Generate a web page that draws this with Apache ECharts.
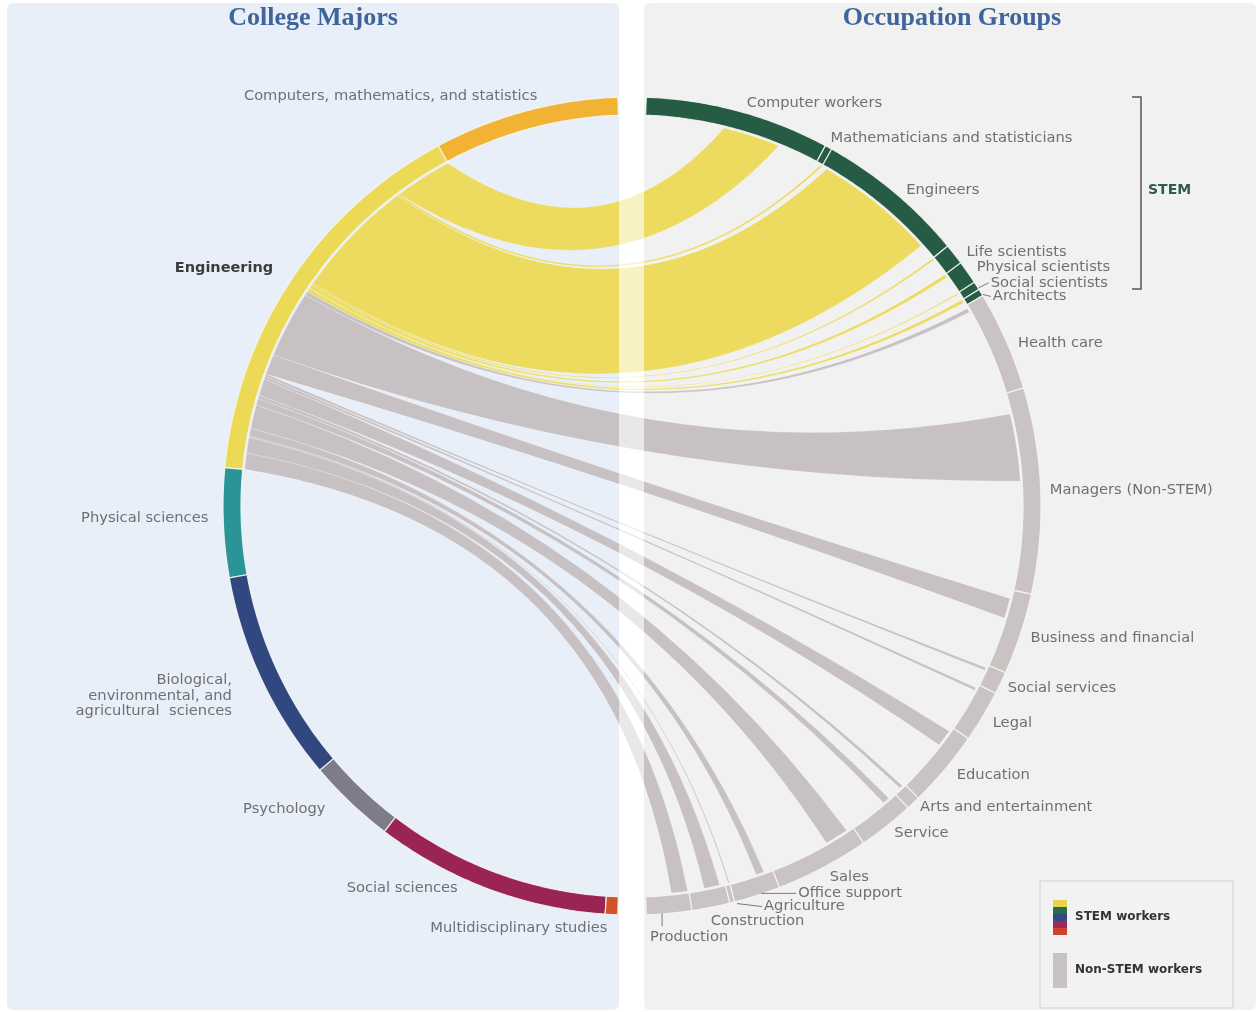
<!DOCTYPE html>
<html>
<head>
<meta charset="utf-8">
<title>College majors and occupation groups</title>
<script src="https://cdn.jsdelivr.net/npm/echarts@6.0.0/dist/echarts.min.js"></script>
<style>
  html, body { margin: 0; padding: 0; background: #fff; }
  #chart { width: 1258px; height: 1012px; }
</style>
</head>
<body>
<div id="chart"></div>
<script>
// share of graduates (%) by college major
var majors = [
  'Computers, mathematics, and statistics',
  'Engineering',
  'Physical sciences',
  'Biological,\nenvironmental, and\nagricultural  sciences',
  'Psychology',
  'Social sciences',
  'Multidisciplinary studies'
];
var majorShare = [14.9, 32.0, 8.8, 17.1, 7.1, 19.0, 1.0];

// share of graduates (%) by occupation group, first 7 are STEM
var occupations = [
  'Computer workers', 'Mathematicians and statisticians', 'Engineers',
  'Life scientists', 'Physical scientists', 'Social scientists', 'Architects',
  'Health care', 'Managers (Non-STEM)', 'Business and financial',
  'Social services', 'Legal', 'Education', 'Arts and entertainment',
  'Service', 'Sales', 'Office support', 'Agriculture', 'Construction', 'Production'
];
var occupationShare = [14.9, 0.57, 12.1, 1.7, 1.88, 0.68, 0.57, 8.07, 16.6, 6.6,
  1.82, 4.2, 6.2, 1.14, 4.5, 7.6, 3.75, 0.4, 3.07, 3.64];
var stemCount = 7;

// computers/maths majors in each occupation (sits ahead of the engineering flow on each arc)
var computersToOccupation = [6.65, 0.4, 0.45, 0, 0, 0, 0, 0.28, 1.76, 0.74,
  0.28, 0.34, 0.4, 0.23, 0.63, 0.57, 0.74, 0, 0.45, 0.11];
// engineering majors in each occupation (the drawn ribbons)
var engineeringToOccupation = [4.83, 0.17, 10.23, 0.17, 0.28, 0.11, 0.28, 0.34, 5.68, 1.70,
  0.23, 0.23, 1.42, 0.28, 0.57, 1.99, 0.68, 0.11, 1.31, 1.36];

var majorColors = ['#f2b233', '#ecd956', '#2b9497', '#30477f', '#7e7b8b', '#9a2555', '#d2532b'];
var stemColor = '#255c43';
var nonStemColor = '#c9c3c4';
var stemRibbon = '#ecdb5f';
var nonStemRibbon = '#c8c1c3';
var labelColor = '#707074';
var labelFont = '14.7px "DejaVu Sans", Verdana, sans-serif';

var R_OUT = 409, R_IN = 391, R_RIB = 389;
var GAP = 2, SPAN = 176;

// label offsets from the outer mid point of each arc: [dx, dy, leader]
var labelNudge = {
  'Computers, mathematics, and statistics': [12, -15],
  'Engineering': [-18, -12],
  'Physical sciences': [-15, -5],
  'Biological,\nenvironmental, and\nagricultural  sciences': [-30, 16],
  'Psychology': [-25, 6],
  'Social sciences': [-31, -1],
  'Multidisciplinary studies': [-4, 14],
  'Computer workers': [8, -8],
  'Mathematicians and statisticians': [2, -9],
  'Engineers': [12, -2],
  'Life scientists': [12, -2],
  'Physical scientists': [9, -5],
  'Social scientists': [14, -3, [2, 2, 12, -3]],
  'Architects': [12, 4, [2, 2, 10, 4]],
  'Health care': [12, 3],
  'Managers (Non-STEM)': [9, 0],
  'Business and financial': [10, 4],
  'Social services': [7, 5],
  'Legal': [10, 7],
  'Education': [12, 6],
  'Arts and entertainment': [7, 4],
  'Service': [8, 7],
  'Sales': [7, 9],
  'Office support': [41, -2, [4, -2, 39, -2]],
  'Agriculture': [32, 4, [5, 1, 30, 4]],
  'Construction': [0, 14],
  'Production': [-19, 24, [-7, 0, -7, 13]]
};

var sum = function (arr) {
  return arr.reduce(function (a, b) { return a + b; }, 0);
};

// build arc segments, angles in degrees clockwise from 12 o'clock
var arcs = [];
var scaleL = SPAN / sum(majorShare);
var scaleR = SPAN / sum(occupationShare);
var phi = GAP;
var majorStart = [];
majors.forEach(function (name, i) {
  majorStart.push(phi);
  var end = phi + majorShare[i] * scaleL;
  arcs.push({ name: name, a0: 360 - phi, a1: 360 - end, color: majorColors[i], left: true, bold: name === 'Engineering' });
  phi = end;
});
var theta = GAP;
var occStart = [];
occupations.forEach(function (name, i) {
  occStart.push(theta);
  var end = theta + occupationShare[i] * scaleR;
  arcs.push({ name: name, a0: theta, a1: end, color: i < stemCount ? stemColor : nonStemColor, left: false });
  theta = end;
});

// ribbons from engineering majors
var ribbons = [];
var s = majorStart[1];
engineeringToOccupation.forEach(function (v, i) {
  var s1 = s + v * scaleL;
  var t0 = occStart[i] + computersToOccupation[i] * scaleR;
  var t1 = t0 + v * scaleR;
  ribbons.push({ s0: 360 - s, s1: 360 - s1, t0: t0, t1: t1, color: i < stemCount ? stemRibbon : nonStemRibbon });
  s = s1;
});

var arcPoints = function (api, r, a0, a1) {
  var n = Math.max(2, Math.ceil(Math.abs(a1 - a0) / 0.5) + 1);
  var pts = [];
  for (var i = 0; i < n; i++) {
    pts.push(api.coord([r, a0 + (a1 - a0) * i / (n - 1)]));
  }
  return pts;
};

// quadratic edge, control pulled toward the rim for close endpoints
var curveTo = function (api, a, b) {
  var diff = ((b - a + 540) % 360) - 180;
  var k = Math.max(0.06, 1 - Math.abs(diff) / 110);
  var c = api.coord([R_RIB * k, a + diff / 2]);
  var e = api.coord([R_RIB, b]);
  return 'Q' + c[0] + ',' + c[1] + ' ' + e[0] + ',' + e[1];
};

var renderRibbon = function (params, api) {
  var rb = ribbons[params.dataIndex];
  var p = api.coord([R_RIB, rb.s0]);
  var d = 'M' + p[0] + ',' + p[1];
  d += curveTo(api, rb.s0, rb.t0);
  arcPoints(api, R_RIB, rb.t0, rb.t1).forEach(function (q) { d += 'L' + q[0] + ',' + q[1]; });
  d += curveTo(api, rb.t1, rb.s1);
  arcPoints(api, R_RIB, rb.s1, rb.s0).forEach(function (q) { d += 'L' + q[0] + ',' + q[1]; });
  d += 'Z';
  return {
    type: 'path',
    shape: { pathData: d },
    style: { fill: rb.color, stroke: 'rgba(255,255,255,0.3)', lineWidth: 0.6 }
  };
};

var renderArc = function (params, api) {
  var a = arcs[params.dataIndex];
  var pts = arcPoints(api, R_OUT, a.a0, a.a1).concat(arcPoints(api, R_IN, a.a1, a.a0));
  var mid = (a.a0 + a.a1) / 2;
  var anchor = api.coord([R_OUT, mid]);
  var nudge = labelNudge[a.name] || [a.left ? -10 : 10, 0];
  var children = [{
    type: 'polygon',
    shape: { points: pts },
    style: { fill: a.color, stroke: 'rgba(245,245,242,0.9)', lineWidth: 1.2 }
  }, {
    type: 'text',
    x: anchor[0] + nudge[0],
    y: anchor[1] + nudge[1],
    style: {
      text: a.name,
      fill: a.bold ? '#3c3c3c' : labelColor,
      font: a.bold ? 'bold 14.5px "DejaVu Sans", Verdana, sans-serif' : labelFont,
      textAlign: a.left ? 'right' : 'left',
      align: a.left ? 'right' : 'left',
      textVerticalAlign: 'middle',
      verticalAlign: 'middle',
      lineHeight: 15.5
    }
  }];
  if (nudge[2]) {
    var l = nudge[2];
    children.push({
      type: 'line',
      shape: { x1: anchor[0] + l[0], y1: anchor[1] + l[1], x2: anchor[0] + l[2], y2: anchor[1] + l[3] },
      style: { stroke: '#7a7a7a', lineWidth: 1 }
    });
  }
  return { type: 'group', children: children };
};

var chart = echarts.init(document.getElementById('chart'), null, { renderer: 'canvas' });

var titleFont = 'bold 26px "Liberation Serif", "DejaVu Serif", serif';
var option = {
  backgroundColor: '#ffffff',
  animation: false,
  polar: { center: [632, 506], radius: R_OUT },
  radiusAxis: { type: 'value', min: 0, max: R_OUT, show: false },
  angleAxis: { type: 'value', min: 0, max: 360, startAngle: 90, clockwise: true, show: false },
  graphic: [
    { type: 'rect', z: 0, shape: { x: 7, y: 3, width: 612, height: 1007, r: 6 }, style: { fill: '#e8eff8' } },
    { type: 'rect', z: 0, shape: { x: 644, y: 3, width: 612, height: 1007, r: 6 }, style: { fill: '#f1f1f1' } },
    {
      type: 'text', z: 10, x: 313, y: 18,
      style: { text: 'College Majors', fill: '#3f649b', font: titleFont,
        textAlign: 'center', align: 'center', textVerticalAlign: 'middle', verticalAlign: 'middle' }
    },
    {
      type: 'text', z: 10, x: 952, y: 18,
      style: { text: 'Occupation Groups', fill: '#3f649b', font: titleFont,
        textAlign: 'center', align: 'center', textVerticalAlign: 'middle', verticalAlign: 'middle' }
    },
    {
      type: 'polyline', z: 10,
      shape: { points: [[1132, 97], [1141, 97], [1141, 289], [1132, 289]] },
      style: { stroke: '#555555', lineWidth: 1.5, fill: null }
    },
    {
      type: 'text', z: 10, x: 1148, y: 190,
      style: { text: 'STEM', fill: '#2e5e48', font: 'bold 14px "DejaVu Sans", Verdana, sans-serif',
        textVerticalAlign: 'middle', verticalAlign: 'middle' }
    },
    { type: 'rect', z: 10, shape: { x: 1040, y: 881, width: 193, height: 127 }, style: { fill: '#f2f2f2', stroke: '#dcdcdc', lineWidth: 1.5 } },
    { type: 'rect', z: 11, shape: { x: 1053, y: 900, width: 14, height: 7 }, style: { fill: '#e8d44d' } },
    { type: 'rect', z: 11, shape: { x: 1053, y: 907, width: 14, height: 7 }, style: { fill: '#2d6b45' } },
    { type: 'rect', z: 11, shape: { x: 1053, y: 914, width: 14, height: 7 }, style: { fill: '#2f4a85' } },
    { type: 'rect', z: 11, shape: { x: 1053, y: 921, width: 14, height: 7 }, style: { fill: '#9b2a55' } },
    { type: 'rect', z: 11, shape: { x: 1053, y: 928, width: 14, height: 7 }, style: { fill: '#d0412e' } },
    { type: 'rect', z: 11, shape: { x: 1053, y: 953, width: 14, height: 35 }, style: { fill: '#c9c2c4' } },
    {
      type: 'text', z: 11, x: 1075, y: 917,
      style: { text: 'STEM workers', fill: '#333333', font: 'bold 12px "DejaVu Sans", Verdana, sans-serif',
        textVerticalAlign: 'middle', verticalAlign: 'middle' }
    },
    {
      type: 'text', z: 11, x: 1075, y: 970,
      style: { text: 'Non-STEM workers', fill: '#333333', font: 'bold 12px "DejaVu Sans", Verdana, sans-serif',
        textVerticalAlign: 'middle', verticalAlign: 'middle' }
    },
    // white gutter between the two panels sits over the ribbons
    { type: 'rect', z: 100, shape: { x: 619, y: 0, width: 25, height: 1012 }, style: { fill: 'rgba(255,255,255,0.62)' } }
  ],
  series: [
    {
      type: 'custom',
      name: 'ribbons',
      coordinateSystem: 'polar',
      silent: true,
      z: 2,
      renderItem: renderRibbon,
      data: ribbons.map(function (r, i) { return [R_RIB, r.t0, i]; })
    },
    {
      type: 'custom',
      name: 'groups',
      coordinateSystem: 'polar',
      silent: true,
      z: 3,
      renderItem: renderArc,
      data: arcs.map(function (a, i) { return [R_OUT, (a.a0 + a.a1) / 2, i]; })
    }
  ]
};

chart.setOption(option);
</script>
</body>
</html>
